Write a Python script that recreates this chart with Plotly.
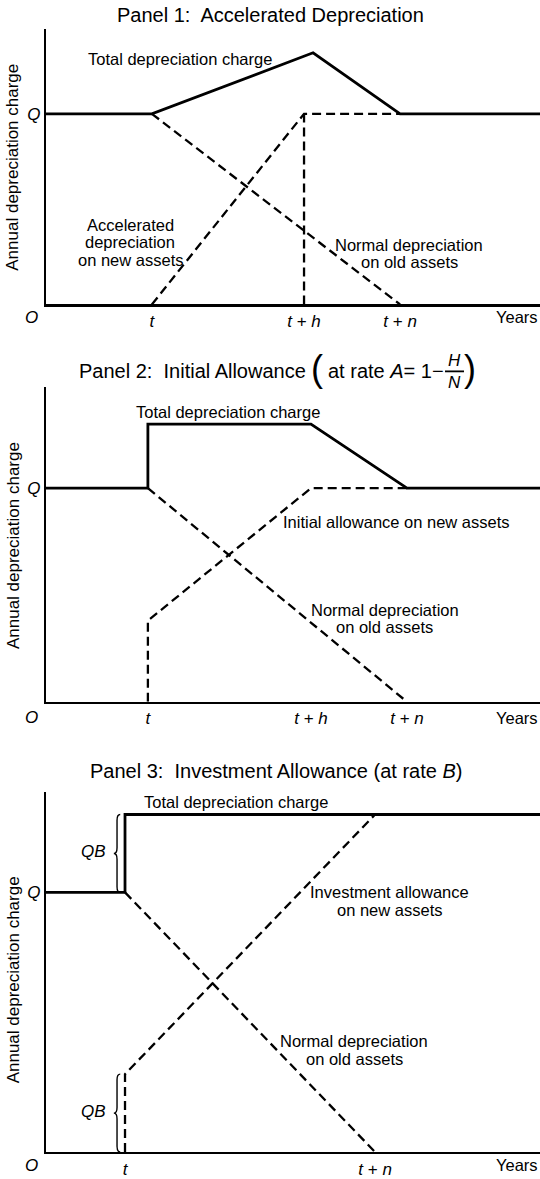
import plotly.graph_objects as go

W, H = 540, 1179
FONT = "Liberation Sans"

# ---------- data (Q = 1 unit of annual depreciation) ----------
Q = 1.0
X_END = 18.57

# Panel 1: accelerated depreciation
p1_t, p1_th, p1_tn = 3.98, 9.70, 13.31
p1_peak_x, p1_peak_y = 10.04, 1.32
p1_total_x = [0, p1_t, p1_peak_x, p1_tn, X_END]
p1_total_y = [Q, Q, p1_peak_y, Q, Q]
p1_old_x = [p1_t, p1_tn]
p1_old_y = [Q, 0]
p1_new_x = [p1_t, p1_th, p1_tn]
p1_new_y = [0, Q, Q]
p1_vline_x = [p1_th, p1_th]
p1_vline_y = [0, Q]

# Panel 2: initial allowance
p2_t, p2_th, p2_tn = 3.83, 9.96, 13.57
p2_high = 1.30
p2_jump = 0.38
p2_total_x = [0, p2_t, p2_t, p2_th, p2_tn, X_END]
p2_total_y = [Q, Q, p2_high, p2_high, Q, Q]
p2_old_x = [p2_t, p2_tn]
p2_old_y = [Q, 0]
p2_new_x = [p2_t, p2_t, p2_th, p2_tn]
p2_new_y = [0, p2_jump, Q, Q]

# Panel 3: investment allowance
p3_t, p3_tn = 2.97, 12.37
B = 0.30
p3_total_x = [0, p3_t, p3_t, X_END]
p3_total_y = [Q, Q, Q + B, Q + B]
p3_old_x = [p3_t, p3_tn]
p3_old_y = [Q, 0]
p3_new_x = [p3_t, p3_t, p3_tn]
p3_new_y = [0, B * Q, Q + B]

tick_vals = [[p1_t, p1_th, p1_tn], [p2_t, p2_th, p2_tn], [p3_t, p3_tn]]
tick_text = [["<i>t</i>", "<i>t</i> + <i>h</i>", "<i>t</i> + <i>n</i>"],
             ["<i>t</i>", "<i>t</i> + <i>h</i>", "<i>t</i> + <i>n</i>"],
             ["<i>t</i>", "<i>t</i> + <i>n</i>"]]
y_tops = [1.445, 1.472, 1.388]

# ---------- layout helpers (window pixels -> paper) ----------
def pxx(x):
    return x / W

def pxy(y):
    return 1 - y / H

boxes = [(29, 305), (388, 703), (793, 1154)]
x_left = 46

fig = go.Figure()

solid = dict(color="black", width=2.8)
dashed = dict(color="black", width=2.3, dash="9px,5px")

def add(x, y, line, k):
    ax = "" if k == 1 else str(k)
    fig.add_trace(go.Scatter(x=x, y=y, mode="lines", line=line,
                             xaxis="x" + ax, yaxis="y" + ax,
                             hoverinfo="skip", showlegend=False))

add(p1_old_x, p1_old_y, dashed, 1)
add(p1_new_x, p1_new_y, dashed, 1)
add(p1_vline_x, p1_vline_y, dashed, 1)
add(p1_total_x, p1_total_y, solid, 1)

add(p2_old_x, p2_old_y, dashed, 2)
add(p2_new_x, p2_new_y, dashed, 2)
add(p2_total_x, p2_total_y, solid, 2)

add(p3_old_x, p3_old_y, dashed, 3)
add(p3_new_x, p3_new_y, dashed, 3)
add(p3_total_x, p3_total_y, solid, 3)

layout = dict(width=W, height=H, autosize=False,
              margin=dict(l=0, r=0, t=0, b=0),
              paper_bgcolor="white", plot_bgcolor="white",
              font=dict(family=FONT, color="black", size=16),
              showlegend=False)

for k, (top, bot) in enumerate(boxes, start=1):
    ax = "" if k == 1 else str(k)
    layout["xaxis" + ax] = dict(
        domain=[pxx(x_left), 1], range=[0, X_END], anchor="y" + ax,
        showgrid=False, zeroline=False, showline=True, linecolor="black",
        linewidth=2.2, tickvals=tick_vals[k - 1], ticktext=tick_text[k - 1],
        ticks="", tickfont=dict(size=17, family=FONT), fixedrange=True)
    layout["yaxis" + ax] = dict(
        domain=[pxy(bot), pxy(top)], range=[0, y_tops[k - 1]], anchor="x" + ax,
        showgrid=False, zeroline=False, showline=True, linecolor="black",
        linewidth=2.2, tickvals=[Q], ticktext=["<i>Q</i>"], ticks="",
        tickfont=dict(size=17, family=FONT), fixedrange=True)

fig.update_layout(**layout)

anns = []

def txt(x, y, s, size=16.5, **kw):
    d = dict(x=pxx(x), y=pxy(y), xref="paper", yref="paper", text=s,
             showarrow=False, font=dict(size=size, family=FONT, color="black"),
             xanchor="center", yanchor="middle")
    d.update(kw)
    anns.append(d)

def lines(x, y0, rows, step=17.5, size=16.5):
    for i, r in enumerate(rows):
        txt(x, y0 + i * step, r, size=size)

# panel titles
txt(270, 15, "Panel 1:  Accelerated Depreciation", size=20)
txt(308, 372, "Panel 2:  Initial Allowance", size=20, xanchor="right")
txt(317, 369, "(", size=36)
txt(326, 372, "at rate <i>A</i>= 1−", size=20, xanchor="left")
txt(454, 361, "<i>H</i>", size=17)
txt(454, 383, "<i>N</i>", size=17)
txt(470, 369, ")", size=36)
txt(276, 772, "Panel 3:  Investment Allowance (at rate <i>B</i>)", size=20)

# y axis titles
for yc in (168, 547, 982):
    txt(13, yc, "Annual depreciation charge", size=17, textangle=-90)

# origin and Years labels
for yl in (318, 719, 1167):
    txt(31, yl, "<i>O</i>", size=17)
    txt(540, yl, "Years", size=16.5, xanchor="right")

# panel 1 labels
txt(180, 59, "Total depreciation charge")
lines(130, 225, ["Accelerated", "depreciation", "on new assets"])
lines(409, 245, ["Normal depreciation", "on old assets"])

# panel 2 labels
txt(228, 413, "Total depreciation charge")
txt(396, 523, "Initial allowance on new assets")
lines(385, 611, ["Normal depreciation", "on old assets"])

# panel 3 labels
txt(236, 803, "Total depreciation charge")
lines(389, 894, ["Investment allowance", "on new assets"])
lines(354, 1043, ["Normal depreciation", "on old assets"])
txt(93, 853, "<i>QB</i>", size=17)
txt(93, 1113, "<i>QB</i>", size=17)

fig.update_layout(annotations=anns)

shapes = []
# fraction bar in panel 2 title
shapes.append(dict(type="line", xref="paper", yref="paper",
                   x0=pxx(445), x1=pxx(464), y0=pxy(372), y1=pxy(372),
                   line=dict(color="black", width=1.8)))

# braces in panel 3, built from the data levels
def brace(xc, y0, y1, d=0.12, e=0.022):
    ym = (y0 + y1) / 2
    return (f"M {xc + d},{y0} Q {xc},{y0} {xc},{y0 + e} "
            f"L {xc},{ym - e} Q {xc},{ym} {xc - d},{ym} "
            f"Q {xc},{ym} {xc},{ym + e} L {xc},{y1 - e} "
            f"Q {xc},{y1} {xc + d},{y1}")

bx = p3_t - 0.30
for y0, y1 in ((Q, Q + B), (0, B * Q)):
    shapes.append(dict(type="path", xref="x3", yref="y3", path=brace(bx, y0, y1),
                       line=dict(color="black", width=1.4)))

fig.update_layout(shapes=shapes)

fig.write_html("out.html",
               config={"displayModeBar": False, "staticPlot": True},
               post_script="document.body.style.margin='0';"
                           "document.body.style.overflow='hidden';")
